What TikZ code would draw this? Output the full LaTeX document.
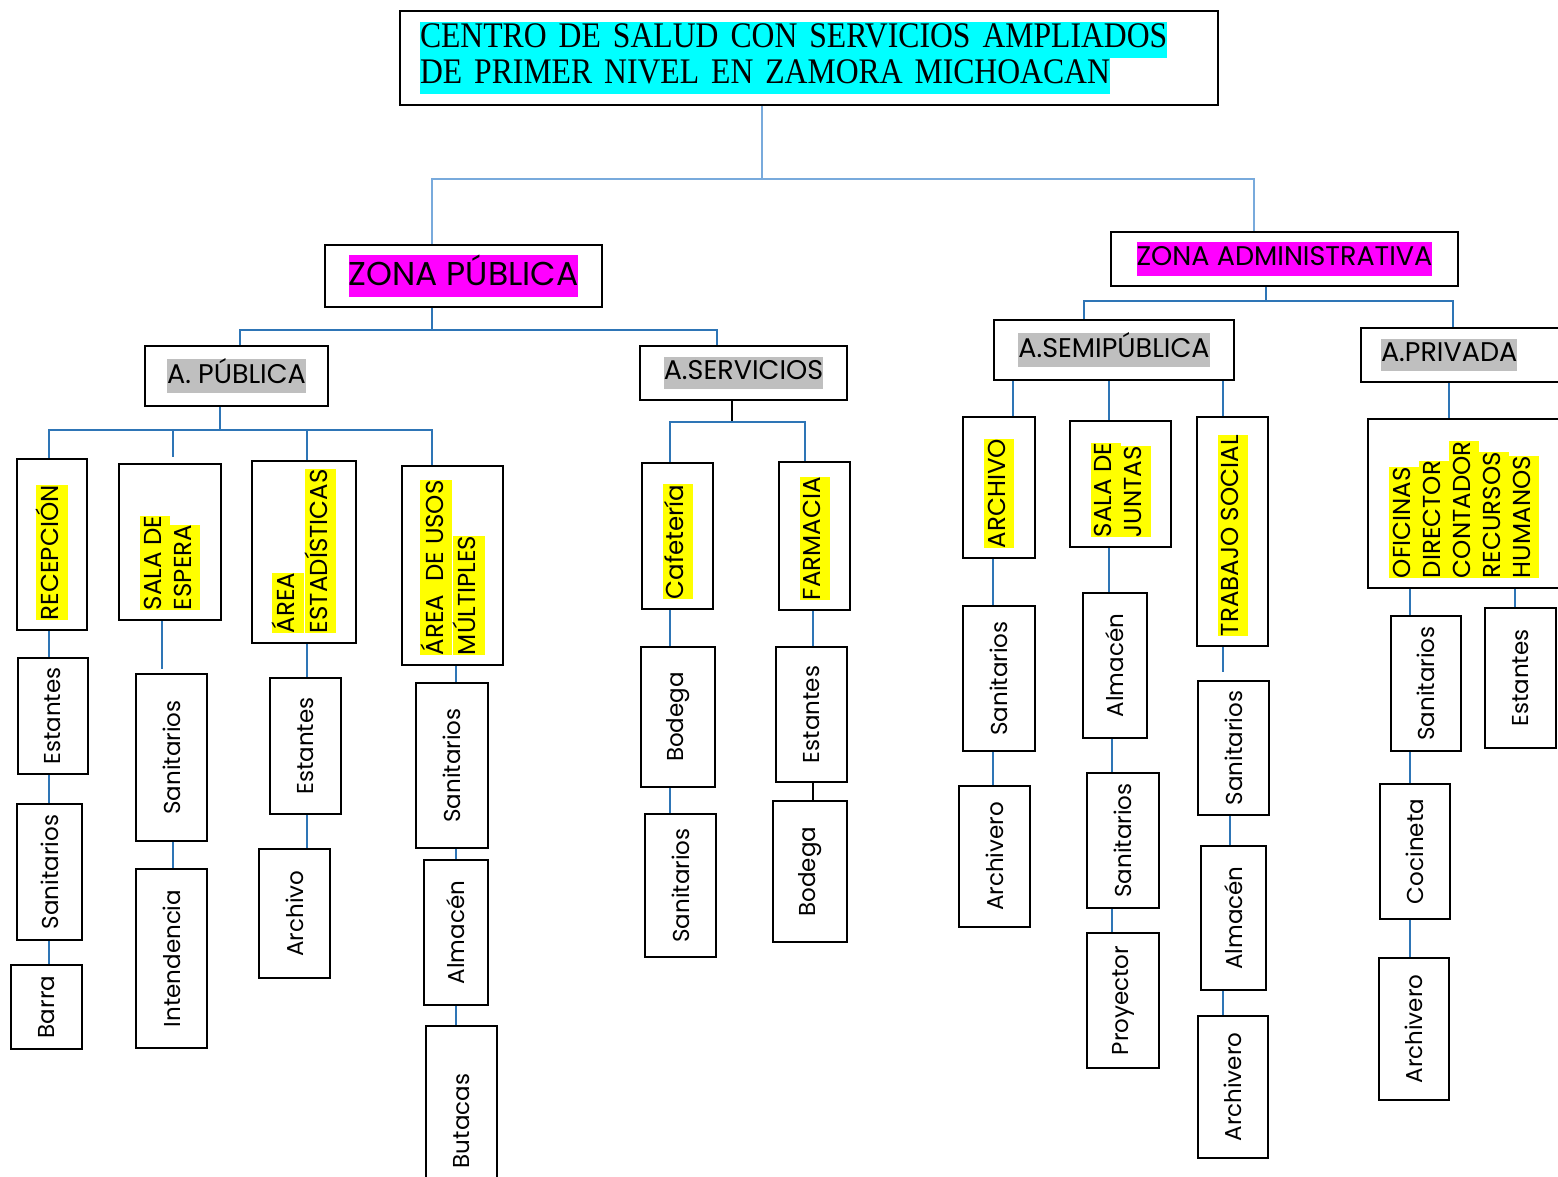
\documentclass[tikz,border=0pt]{standalone}
\usepackage{fontspec}
\setmainfont{Poppins}
\newfontfamily\romana[FakeStretch=0.88, WordSpace=0.7]{Liberation Serif}
\definecolor{azul}{RGB}{46,117,182}
\definecolor{azulclaro}{RGB}{120,170,220}
\definecolor{grisfondo}{RGB}{191,191,191}
\definecolor{amarillo}{RGB}{255,255,0}
\definecolor{cian}{RGB}{0,255,255}
\definecolor{fucsia}{RGB}{255,0,255}
\setlength{\fboxsep}{0pt}
\newcommand{\resal}[2][amarillo]{\colorbox{#1}{\strut #2}}
\newcommand{\rotulo}[2]{\rotatebox{90}{\begin{minipage}{#1pt}\raggedright #2\end{minipage}}}
\tikzset{
	caja/.style={draw=black, line width=2.2pt, inner sep=0pt},
	cabecera/.style={caja, font=\fontsize{27}{32}\selectfont},
	area/.style={caja, font=\fontsize{24.5}{30}\selectfont},
	sub/.style={caja, font=\fontsize{23}{30}\selectfont},
	enlace/.style={draw=azul, line width=2.6pt},
	enlacefino/.style={draw=azulclaro, line width=2pt},
	enlacenegro/.style={draw=black, line width=2.4pt},
}
\begin{document}
\begin{tikzpicture}[x=1pt, y=-1pt]
	\useasboundingbox (0,0) rectangle (1558,1177);
	% titulo y zonas
	\node[caja, line width=2pt, minimum width=818, minimum height=94, text width=778, inner xsep=20, align=left,
		font=\romana\fontsize{36}{36}\selectfont] (titulo) at (809,58)
		{\resal[cian]{CENTRO DE SALUD CON SERVICIOS AMPLIADOS}\\\resal[cian]{DE PRIMER NIVEL EN ZAMORA MICHOACAN}};
	\node[caja, minimum width=277, minimum height=62, font=\fontsize{33}{40}\selectfont] (zpub) at (463.5,276) {\resal[fucsia]{ZONA PÚBLICA}};
	\node[caja, minimum width=347, minimum height=54, font=\fontsize{27}{33}\selectfont] (zadm) at (1284.5,259) {\resal[fucsia]{ZONA ADMINISTRATIVA}};
	% areas
	\node[cabecera, minimum width=183, minimum height=60] (apub) at (236.5,376) {\resal[grisfondo]{A. PÚBLICA}};
	\node[cabecera, minimum width=207, minimum height=54] (aserv) at (743.5,373) {\resal[grisfondo]{A.SERVICIOS}};
	\node[cabecera, minimum width=240, minimum height=60] (asemi) at (1114,350) {\resal[grisfondo]{A.SEMIPÚBLICA}};
	\node[cabecera, minimum height=54, text width=159, inner xsep=20, align=left] (apriv) at (1460.5,355) {\resal[grisfondo]{A.PRIVADA}};
	% espacios
	\node[area, minimum width=70, minimum height=171] (recep) at (52,544.5) {\rotulo{151}{\resal{RECEPCIÓN}}};
	\node[area, minimum width=102, minimum height=156] (salaesp) at (170,542) {\rotulo{136}{\resal{SALA DE}\\\resal{ESPERA}}};
	\node[area, minimum width=104, minimum height=182] (areaest) at (304,552) {\rotulo{162}{\resal{ÁREA}\\\resal{ESTADÍSTICAS}}};
	\node[area, minimum width=101, minimum height=199] (areausos) at (452.5,565.5) {\rotulo{179}{\resal{ÁREA\ \ DE USOS}\\\resal{MÚLTIPLES}}};
	\node[area, minimum width=71, minimum height=146] (cafe) at (677.5,536) {\rotulo{126}{\resal{Cafetería}}};
	\node[area, minimum width=71, minimum height=148] (farm) at (814.5,536) {\rotulo{128}{\resal{FARMACIA}}};
	\node[area, minimum width=72, minimum height=141] (archsemi) at (999,487.5) {\rotulo{121}{\resal{ARCHIVO}}};
	\node[area, minimum width=101, minimum height=126] (juntas) at (1120.5,484) {\rotulo{106}{\resal{SALA DE}\\\resal{JUNTAS}}};
	\node[area, minimum width=71, minimum height=229] (trabajo) at (1232.5,531.5) {\rotulo{209}{\resal{TRABAJO SOCIAL}}};
	\node[area, minimum width=192, minimum height=169] (oficinas) at (1464,503.5)
		{\rotulo{149}{\resal{OFICINAS}\\\resal{DIRECTOR}\\\resal{CONTADOR}\\\resal{RECURSOS}\\\resal{HUMANOS}}};
	% zona publica, mobiliario
	\node[sub, minimum width=70, minimum height=116] (estA) at (53,716) {\rotatebox{90}{Estantes}};
	\node[sub, minimum width=65, minimum height=136] (sanA) at (49.5,872) {\rotatebox{90}{Sanitarios}};
	\node[sub, minimum width=71, minimum height=84] (barra) at (46.5,1007) {\rotatebox{90}{Barra}};
	\node[sub, minimum width=71, minimum height=167] (sanB) at (171.5,757.5) {\rotatebox{90}{Sanitarios}};
	\node[sub, minimum width=71, minimum height=179] (intend) at (171.5,958.5) {\rotatebox{90}{Intendencia}};
	\node[sub, minimum width=71, minimum height=136] (estC) at (305.5,746) {\rotatebox{90}{Estantes}};
	\node[sub, minimum width=71, minimum height=129] (archivoC) at (294.5,913.5) {\rotatebox{90}{Archivo}};
	\node[sub, minimum width=72, minimum height=165] (sanD) at (452,765.5) {\rotatebox{90}{Sanitarios}};
	\node[sub, minimum width=64, minimum height=145] (almD) at (456,932.5) {\rotatebox{90}{Almacén}};
	\node[sub, minimum width=71, minimum height=190] (butacas) at (461.5,1121) {\rotatebox{90}{Butacas}};
	\node[sub, minimum width=74, minimum height=140] (bodE) at (678,717) {\rotatebox{90}{Bodega}};
	\node[sub, minimum width=71, minimum height=143] (sanE) at (680.5,885.5) {\rotatebox{90}{Sanitarios}};
	\node[sub, minimum width=71, minimum height=135] (estF) at (811.5,714.5) {\rotatebox{90}{Estantes}};
	\node[sub, minimum width=74, minimum height=141] (bodF) at (810,871.5) {\rotatebox{90}{Bodega}};
	% zona administrativa, mobiliario
	\node[sub, minimum width=72, minimum height=145] (sanG) at (999,678.5) {\rotatebox{90}{Sanitarios}};
	\node[sub, minimum width=71, minimum height=141] (archvG) at (994.5,856.5) {\rotatebox{90}{Archivero}};
	\node[sub, minimum width=64, minimum height=145] (almH) at (1115,665.5) {\rotatebox{90}{Almacén}};
	\node[sub, minimum width=72, minimum height=135] (sanH) at (1123,840.5) {\rotatebox{90}{Sanitarios}};
	\node[sub, minimum width=72, minimum height=135] (proy) at (1123,1000.5) {\rotatebox{90}{Proyector}};
	\node[sub, minimum width=71, minimum height=134] (sanI) at (1233.5,748) {\rotatebox{90}{Sanitarios}};
	\node[sub, minimum width=65, minimum height=144] (almI) at (1233.5,918) {\rotatebox{90}{Almacén}};
	\node[sub, minimum width=70, minimum height=142] (archvI) at (1233,1087) {\rotatebox{90}{Archivero}};
	\node[sub, minimum width=70, minimum height=135] (sanJ) at (1426,683.5) {\rotatebox{90}{Sanitarios}};
	\node[sub, minimum width=70, minimum height=135] (cocin) at (1415,851.5) {\rotatebox{90}{Cocineta}};
	\node[sub, minimum width=70, minimum height=142] (archvJ) at (1414,1029) {\rotatebox{90}{Archivero}};
	\node[sub, minimum width=71, minimum height=140] (estK) at (1520.5,678) {\rotatebox{90}{Estantes}};
	% enlaces principales
	\draw[enlacefino] ([xshift=-47]titulo.south) -- ++(0,73) coordinate (b0);
	\draw[enlacefino] ([xshift=-31.5]zpub.north) |- (b0) -| ([xshift=-30.5]zadm.north);
	\draw[enlace] ([xshift=-31.5]zpub.south) -- ++(0,22) coordinate (b1);
	\draw[enlace] ([xshift=3.5]apub.north) |- (b1) -| ([xshift=-26.5]aserv.north);
	\draw[enlace] ([xshift=-18.5]zadm.south) -- ++(0,14) coordinate (b4);
	\draw[enlace] ([xshift=-30]asemi.north) |- (b4) -| ([xshift=-7.5]apriv.north);
	% zona publica
	\draw[enlace] ([xshift=-16.5]apub.south) -- ++(0,23) coordinate (b2);
	\draw[enlace] ([xshift=-3]recep.north) |- (b2) -| ([xshift=-20.5]areausos.north);
	\draw[enlace, shorten <=6] ([xshift=3]salaesp.north) |- (b2);
	\draw[enlace] ([xshift=3]areaest.north) |- (b2);
	\draw[enlacenegro] ([xshift=-11.5]aserv.south) -- ++(0,21) coordinate (b3);
	\draw[enlace] ([xshift=-7.5]cafe.north) |- (b3) -| ([xshift=-9.5]farm.north);
	\draw[enlace] ([xshift=-3]recep.south) -- ([xshift=-4]estA.north);
	\draw[enlace] ([xshift=-4]estA.south) -- ([xshift=-0.5]sanA.north);
	\draw[enlace] ([xshift=-0.5]sanA.south) -- ([xshift=2.5]barra.north);
	\draw[enlace, shorten >=4] ([xshift=-8]salaesp.south) -- ([xshift=-9.5]sanB.north);
	\draw[enlace] ([xshift=1.5]sanB.south) -- ([xshift=1.5]intend.north);
	\draw[enlace] ([xshift=3]areaest.south) -- ([xshift=1.5]estC.north);
	\draw[enlace] ([xshift=1.5]estC.south) -- ([xshift=12.5]archivoC.north);
	\draw[enlace] ([xshift=3.5]areausos.south) -- ([xshift=4]sanD.north);
	\draw[enlace] ([xshift=4]sanD.south) -- ([xshift=0]almD.north);
	\draw[enlace] ([xshift=0]almD.south) -- ([xshift=-5.5]butacas.north);
	\draw[enlace] ([xshift=-7.5]cafe.south) -- ([xshift=-8]bodE.north);
	\draw[enlace] ([xshift=-8]bodE.south) -- ([xshift=-10.5]sanE.north);
	\draw[enlace] ([xshift=-1.5]farm.south) -- ([xshift=1.5]estF.north);
	\draw[enlacenegro] ([xshift=1.5]estF.south) -- ([xshift=3]bodF.north);
	% zona administrativa
	\draw[enlace] ([xshift=-101]asemi.south) -- ([xshift=14]archsemi.north);
	\draw[enlace] ([xshift=-5]asemi.south) -- ([xshift=-11.5]juntas.north);
	\draw[enlace] ([xshift=109]asemi.south) -- ([xshift=-9.5]trabajo.north);
	\draw[enlace] ([xshift=-11.5]apriv.south) -- ([xshift=-15]oficinas.north);
	\draw[enlace] ([xshift=-6]archsemi.south) -- ([xshift=-6]sanG.north);
	\draw[enlace] ([xshift=-6]sanG.south) -- ([xshift=-1.5]archvG.north);
	\draw[enlace] ([xshift=-11.5]juntas.south) -- ([xshift=-6]almH.north);
	\draw[enlace] ([xshift=-3]almH.south) -- ([xshift=-11]sanH.north);
	\draw[enlace] ([xshift=-11]sanH.south) -- ([xshift=-11]proy.north);
	\draw[enlace, shorten >=8] ([xshift=-9.5]trabajo.south) -- ([xshift=-10.5]sanI.north);
	\draw[enlace] ([xshift=-3.5]sanI.south) -- ([xshift=-3.5]almI.north);
	\draw[enlace] ([xshift=-10.5]almI.south) -- ([xshift=-10]archvI.north);
	\draw[enlace] ([xshift=-54]oficinas.south) -- ([xshift=-16]sanJ.north);
	\draw[enlace] ([xshift=51]oficinas.south) -- ([xshift=-5.5]estK.north);
	\draw[enlace] ([xshift=-16]sanJ.south) -- ([xshift=-5]cocin.north);
	\draw[enlace] ([xshift=-5]cocin.south) -- ([xshift=-4]archvJ.north);
\end{tikzpicture}
\end{document}
